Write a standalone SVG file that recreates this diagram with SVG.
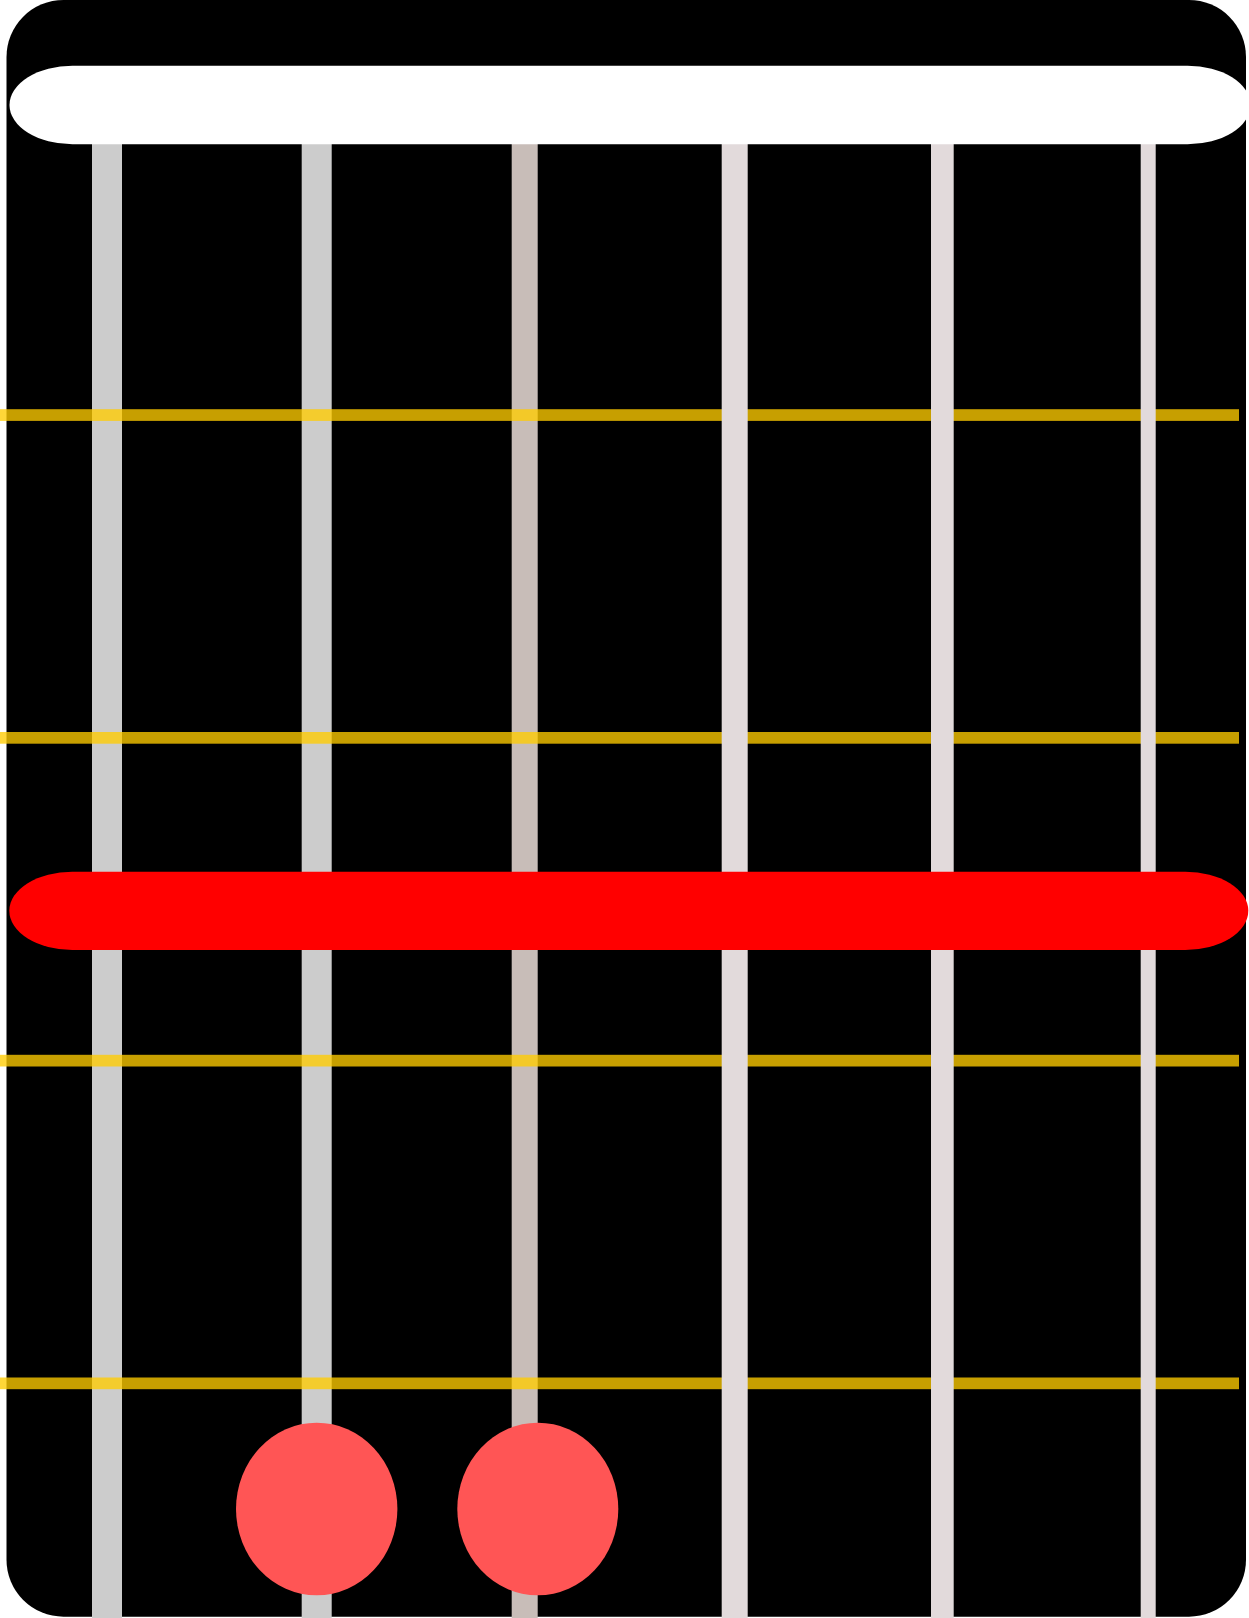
<svg xmlns="http://www.w3.org/2000/svg" width="1249" height="1618" viewBox="0 0 1249 1618">
<style>
.fret{fill:#ffcc00;fill-opacity:0.78}
.sA{fill:#cccccc}
.sB{fill:#c8bdb8}
.sC{fill:#e2dadb}
.dot{fill:#ff5555}
</style>
<g id="board"><rect x="6.5" y="0" width="1239.5" height="1616.7" rx="57" ry="57" fill="#000"/></g>
<g id="strings-low">
<rect id="string1" class="sA" x="92" y="140" width="30" height="1478"/>
<rect id="string2" class="sA" x="301.7" y="140" width="30" height="1478"/>
<rect id="string3" class="sB" x="511.7" y="140" width="26" height="1478"/>
</g>
<g id="frets">
<rect id="fret1" class="fret" x="0" y="409.2" width="1239" height="11.7"/>
<rect id="fret2" class="fret" x="0" y="732" width="1239" height="11.7"/>
<rect id="fret3" class="fret" x="0" y="1054.8" width="1239" height="11.7"/>
<rect id="fret4" class="fret" x="0" y="1377.5" width="1239" height="11.7"/>
</g>
<g id="strings-high">
<rect id="string4" class="sC" x="721.7" y="140" width="26" height="1478"/>
<rect id="string5" class="sC" x="931" y="140" width="22.7" height="1478"/>
<rect id="string6" class="sC" x="1140.7" y="140" width="15" height="1478"/>
</g>
<g id="nut"><rect x="9.5" y="65.7" width="1241" height="78.6" rx="63" ry="39.3" fill="#fff"/></g>
<g id="barre"><rect x="9.3" y="871.7" width="1239" height="78.3" rx="63" ry="39.15" fill="#ff0000"/></g>
<g id="dot1"><ellipse class="dot" cx="316.7" cy="1509" rx="80.7" ry="86.3"/></g>
<g id="dot2"><ellipse class="dot" cx="537.8" cy="1509" rx="80.5" ry="86.3"/></g>
</svg>
